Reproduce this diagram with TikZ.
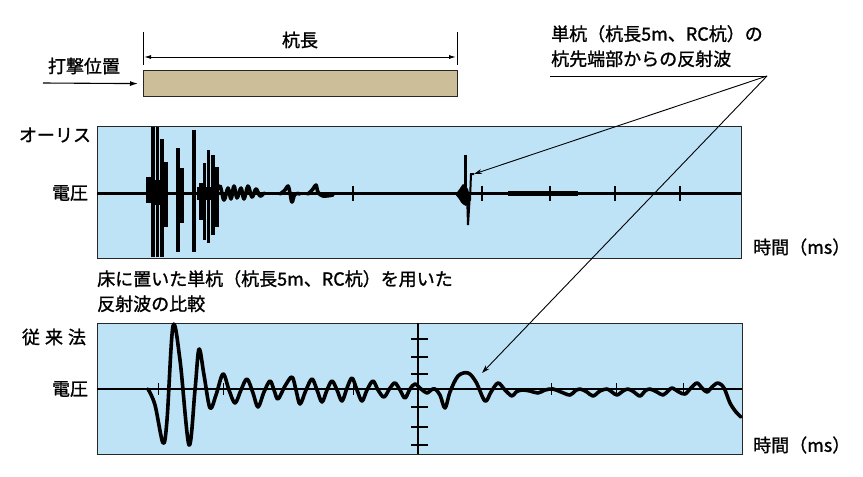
\documentclass[tikz,border=0pt]{standalone}
\usepackage{fontspec}
\setmainfont{Noto Sans CJK JP}[FakeBold=1.2]
\usetikzlibrary{arrows.meta}
\definecolor{panelblue}{HTML}{BEE3F7}
\definecolor{piletan}{HTML}{CDBE9A}
\begin{document}
\begin{tikzpicture}[x=1pt,y=-1pt,
  lbl/.style={font=\fontsize{18}{25}\selectfont, inner sep=0pt},
  panel/.style={fill=panelblue, draw=black!85, line width=1.2pt, inner sep=0pt, anchor=north west},
  wave/.style={line width=3.6pt, line join=round, line cap=round},
  thinln/.style={line width=0.9pt},
  axisln/.style={line width=1.3pt},
  tip/.style={-{Stealth[length=8pt,width=5pt]}},
  dimtip/.style={{Latex[length=7pt,width=4pt]}-{Latex[length=7pt,width=4pt]}}]
\useasboundingbox (0,0) rectangle (863,477);

% ---------- pile sketch ----------
\node[draw=black!85, fill=piletan, line width=1.2pt, minimum width=314pt, minimum height=26pt, inner sep=0pt, anchor=north west] (pile) at (143,70) {};
\coordinate (d1t) at (143,32); \coordinate (d1b) at (143,65);
\coordinate (d2t) at (457,32); \coordinate (d2b) at (457,65);
\draw[thinln] (d1t) -- (d1b);
\draw[thinln] (d2t) -- (d2b);
\coordinate (dl) at (144,57); \coordinate (dr) at (456,57);
\draw[thinln, dimtip] (dl) -- (dr);
\node[lbl] (len) at (300,40) {杭長};
\node[lbl] (hit) at (84,66) {打撃位置};
\coordinate (hitstart) at (43,83);
\draw[line width=1.1pt, -{Latex[length=8pt,width=5pt]}] (hitstart) -- ([xshift=-5pt]pile.west);

% ---------- top panel ----------
\node[panel, minimum width=644pt, minimum height=132pt] (top) at (97,126) {};
\node[lbl] (lo) at (55,135) {オーリス};
\node[lbl] (v1) at (70,193) {電圧};
\node[lbl, anchor=west] (t1) at (753,247) {時間（ms）};
\coordinate (m1l) at (97,193); \coordinate (m1r) at (741,193);
\draw[line width=3pt] (m1l) -- (m1r);
\draw[line width=4.5pt] (508,193.5) -- (578,193.5);
\foreach \x in {353,482,550,615,680} \draw[line width=1.3pt] (\x,186) -- (\x,201);
% early spikes
\fill (146,177) rectangle (152,203);
\foreach \x/\a/\b/\w in {153/127/257/4.5, 157.5/127/257/3.5, 162/139/257/4, 165.5/162/227/5,
  178/148/252/3.5, 182/168/223/3.5, 194/130/252/4, 201/183/220/5, 204.5/163/240/3.5,
  208.5/150/243/3.5, 213/155/235/3.5, 217/167/227/3.5}
  \draw[line width=\w pt] (\x,\a) -- (\x,\b);
\fill (197,187) rectangle (216,200);
\fill (155,180) rectangle (166,205);
\draw[wave] plot[smooth, tension=0.6] coordinates {(216,193) (220,186) (224,200) (228,188) (231,199) (234,186) (237,198) (241,188) (244,199) (248,186) (252,197) (256,189) (260,196) (264,193)};
\draw[wave] plot[smooth, tension=0.6] coordinates {(280,194) (285,190) (288,186) (290,193) (292,202) (295,194) (300,194)};
\draw[wave] plot[smooth, tension=0.6] coordinates {(308,194) (313,189) (316,185) (318,192) (323,196) (333,195)};
% reflection spike
\fill (455,194) .. controls (459,191) and (461,186) .. (463,184) -- (468,189) .. controls (470,195) .. (471,200) -- (466,206) .. controls (462,204) .. (459,199) -- cycle;
\draw[line width=3pt] (465,155) -- (465,198);
\fill (466,193) -- (471,193) -- (469,225) -- (467,225) -- cycle;
\draw[line width=2pt] (470,200) -- (471,174) -- (474,174);
\coordinate (refl1) at (474,174);

% ---------- caption ----------
\node[lbl, anchor=north west, align=left] (cap) at (97,270) {床に置いた単杭（杭長5m、RC杭）を用いた\\反射波の比較};

% ---------- bottom panel ----------
\node[panel, minimum width=645pt, minimum height=131pt] (bot) at (97,323) {};
\node[lbl] (lj) at (54,337) {従\hspace{5pt}来\hspace{5pt}法};
\node[lbl] (v2) at (70,389) {電圧};
\node[lbl, anchor=west] (t2) at (753,445) {時間（ms）};
\coordinate (m2l) at (97,389); \coordinate (m2r) at (742,389);
\draw[axisln] (m2l) -- (m2r);
\coordinate (axt) at (418,323); \coordinate (axb) at (418,454);
\draw[axisln] (axt) -- (axb);
\foreach \y in {339,357,374,407,427,445} \draw[axisln] (411,\y) -- (428,\y);
\foreach \x in {158,223,353,551,616,683} \draw[line width=1pt] (\x,383) -- (\x,395);
\draw[wave] plot[smooth, tension=0.55] coordinates {
 (148,389) (155,405) (163,443) (167,420) (173,326) (180,360) (189,445) (195,390) (199,349) (204,375) (210,408)
 (216,395) (223,374) (229,390) (235,403) (241,390) (247,379) (253,393) (258,407) (264,392) (270,381) (274,390) (278,399)
 (285,386) (292,377) (296,390) (300,404) (306,390) (312,379) (317,390) (322,402) (327,390) (332,381) (337,390) (342,401)
 (347,388) (352,378) (357,390) (362,401) (367,390) (373,381) (378,390) (384,397) (390,388) (395,383) (400,390) (405,398)
 (410,389) (415,384) (421,389) (427,393) (431,390) (435,389) (440,395) (445,408) (450,392) (458,376) (468,373) (476,382)
 (485,401) (491,392) (498,383) (505,390) (512,396) (516,392) (522,390) (530,391) (538,393) (545,390) (553,389) (561,392)
 (570,395) (575,391) (580,389) (587,392) (593,396) (600,391) (607,389) (612,392) (617,395) (623,391) (628,389) (634,392)
 (640,396) (645,391) (650,389) (657,392) (663,395) (668,391) (672,388) (679,392) (685,394) (691,388) (697,383) (702,388)
 (707,392) (712,387) (718,383) (724,388) (730,403) (736,412) (741,417)};

% ---------- annotation ----------
\node[lbl, anchor=north west, align=left] (ann) at (551,25) {単杭（杭長5m、RC杭）の\\杭先端部からの反射波};
\coordinate (ul) at (550,76); \coordinate (ur) at (767,76);
\draw[thinln] (ul) -- (ur);
\draw[thinln, tip] (ur) -- (refl1);
\coordinate (refl2) at (482,373);
\draw[thinln, tip] (ur) -- (refl2);
\end{tikzpicture}
\end{document}
